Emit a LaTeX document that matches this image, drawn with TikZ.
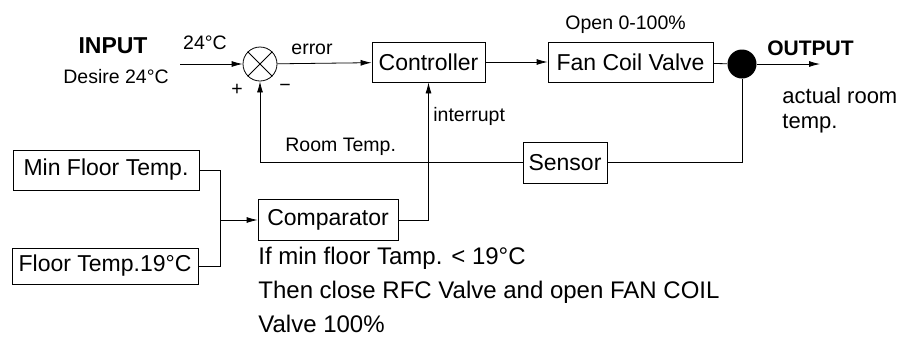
\documentclass[tikz,border=0pt]{standalone}
\usepackage{fontspec}
\setmainfont{Liberation Sans}
\usetikzlibrary{arrows.meta,positioning}

\begin{document}
\begin{tikzpicture}[
  x=1pt,y=-1pt,
  line width=0.8pt,
  box/.style={rectangle,draw,minimum height=40pt,inner sep=2pt,font=\fontsize{23}{27}\selectfont},
  lbl/.style={inner sep=0pt,font=\fontsize{19.5}{23}\selectfont},
  big/.style={inner sep=0pt,font=\fontsize{22}{26}\selectfont},
  arrow/.style={-{Latex[length=11pt,width=6pt]}}
]
\useasboundingbox (0,0) rectangle (897,338);

% forward path
\node[circle,draw,minimum size=34pt,inner sep=0pt] (sum) at (260,64) {};
\draw (sum.north west) -- (sum.south east);
\draw (sum.north east) -- (sum.south west);
\node[box,minimum width=113pt] (ctrl) at (428.5,62) {Controller};
\node[box,minimum width=165pt] (fcv) at (630.5,62) {Fan Coil Valve};
\node[circle,fill=black,minimum size=29pt,inner sep=0pt] (dot) at (742,64) {};
\coordinate (in) at (180,64);
\coordinate (out) at (820,64);

% feedback and floor branch
\node[box,minimum width=84pt,minimum height=41pt] (sensor) at (565,162.5) {Sensor};
\node[box,minimum width=140pt,minimum height=41pt] (cmp) at (328,220) {Comparator};
\node[box,minimum width=186pt] (minf) at (106,170) {Min Floor Temp.};
\node[box,minimum width=186pt,minimum height=36pt] (flr) at (105,266) {Floor Temp.19°C};
\coordinate (join) at (220,220);

% texts
\node[inner sep=0pt,font=\fontsize{23}{27}\selectfont\bfseries] (inp) at (113,46) {INPUT};
\node[lbl] (des) at (116,77) {Desire 24°C};
\node[lbl] (t24) at (205,43) {24°C};
\node[lbl] (plus) at (237,90) {+};
\node[lbl] (minus) at (285,88) {−};
\node[lbl] (err) at (312,49) {error};
\node[lbl,anchor=west] (open) at (565,25) {Open 0-100\%};
\node[lbl,anchor=west] (intr) at (433,116) {interrupt};
\node[lbl,anchor=west] (room) at (285,147) {Room Temp.};
\node[inner sep=0pt,font=\fontsize{21}{25}\selectfont\bfseries,anchor=west] (outp) at (767,48) {OUTPUT};
\node[big,anchor=west] (act) at (782,96) {actual room};
\node[big,anchor=west] (tmp) at (782,124) {temp.};
\node[inner sep=0pt,anchor=north west,align=left,font=\fontsize{24}{34}\selectfont] (note) at (258,247)
  {If min floor Tamp. < 19°C\\Then close RFC Valve and open FAN COIL\\Valve 100\%};

% connectors
\draw[arrow] (in) -- (sum);
\draw[arrow] (sum) -- (ctrl);
\draw[arrow] (ctrl) -- (fcv);
\draw (fcv) -- (dot);
\draw[arrow] (dot) -- (out);
\draw (dot) |- (sensor);
\draw[arrow] (sensor) -| (sum);
\draw (minf.east) -| (join);
\draw (flr.east) -| (join);
\draw[arrow] (join) -- (cmp);
\draw[arrow] (cmp.east) -| (ctrl.south);
\end{tikzpicture}
\end{document}
